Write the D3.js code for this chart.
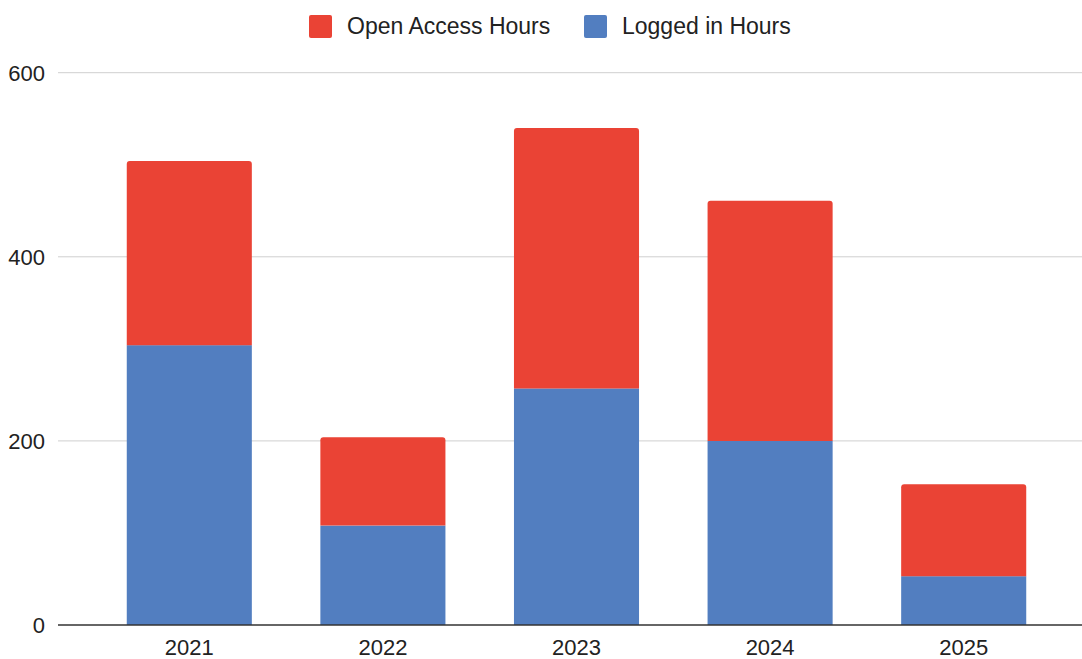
<!DOCTYPE html>
<html>
<head>
<meta charset="utf-8">
<script src="https://cdn.jsdelivr.net/npm/d3@7/dist/d3.min.js"></script>
<style>
  html, body { margin: 0; padding: 0; background: #fff; }
  text { font-family: "Liberation Sans", Arial, sans-serif; fill: #222; }
</style>
</head>
<body>
<svg id="chart" width="1082" height="659"></svg>
<script>
const years = ["2021", "2022", "2023", "2024", "2025"];
const loggedInHours = [304, 108, 257, 200, 53];
const openAccessHours = [200, 96, 283, 261, 100];
const seriesNames = ["Open Access Hours", "Logged in Hours"];
const seriesColors = ["#ea4335", "#527ec0"];
const yTicks = [0, 200, 400, 600];

const svg = d3.select("#chart");
const plotLeft = 58, plotRight = 1082, plotTop = 72.7, plotBottom = 625;

const x = d3.scaleBand().domain(years).range([92.5, 1060.5]).paddingInner(0.354).paddingOuter(0.177);
const y = d3.scaleLinear().domain([0, 600]).range([plotBottom, plotTop]);

// gridlines
svg.append("g").selectAll("line").data(yTicks.filter(t => t !== 0)).join("line")
  .attr("x1", plotLeft).attr("x2", plotRight)
  .attr("y1", d => y(d)).attr("y2", d => y(d))
  .attr("stroke", "#cfcfcf").attr("stroke-width", 1);

// y labels
svg.append("g").selectAll("text").data(yTicks).join("text")
  .attr("x", 45).attr("y", d => y(d)).attr("dy", "0.36em")
  .attr("text-anchor", "end").attr("font-size", 22)
  .text(d => d);

// data table
const rows = years.map((yr, i) => ({ year: yr, logged: loggedInHours[i], open: openAccessHours[i] }));
const stack = d3.stack().keys(["logged", "open"])(rows);

function topRounded(x0, y0, w, h, r) {
  return `M${x0},${y0 + h}V${y0 + r}Q${x0},${y0} ${x0 + r},${y0}H${x0 + w - r}Q${x0 + w},${y0} ${x0 + w},${y0 + r}V${y0 + h}Z`;
}

// logged (bottom)
svg.append("g").selectAll("rect").data(stack[0]).join("rect")
  .attr("x", d => x(d.data.year)).attr("width", x.bandwidth())
  .attr("y", d => y(d[1])).attr("height", d => y(d[0]) - y(d[1]))
  .attr("fill", seriesColors[1]);

// open access (top)
svg.append("g").selectAll("path").data(stack[1]).join("path")
  .attr("d", d => topRounded(x(d.data.year), y(d[1]), x.bandwidth(), y(d[0]) - y(d[1]), 3))
  .attr("fill", seriesColors[0]);

// baseline
svg.append("line").attr("x1", plotLeft).attr("x2", plotRight)
  .attr("y1", y(0)).attr("y2", y(0)).attr("stroke", "#333").attr("stroke-width", 1.5);

// x axis labels
const xAxis = d3.axisBottom(x).tickSize(0).tickPadding(0);
const gx = svg.append("g").attr("transform", `translate(0,${y(0)})`).call(xAxis);
gx.select(".domain").remove();
gx.selectAll("text").attr("font-size", 22).attr("y", 30).attr("dy", 0)
  .style("font-family", '"Liberation Sans", Arial, sans-serif').attr("fill", "#222");

// legend
const legendItems = [
  { name: seriesNames[0], color: seriesColors[0], sx: 309, tx: 347 },
  { name: seriesNames[1], color: seriesColors[1], sx: 584, tx: 622 }
];
const lg = svg.append("g");
legendItems.forEach(it => {
  lg.append("rect").attr("x", it.sx).attr("y", 15).attr("width", 23).attr("height", 23)
    .attr("rx", 2).attr("fill", it.color);
  lg.append("text").attr("x", it.tx).attr("y", 34).attr("font-size", 23).text(it.name);
});
</script>
</body>
</html>
